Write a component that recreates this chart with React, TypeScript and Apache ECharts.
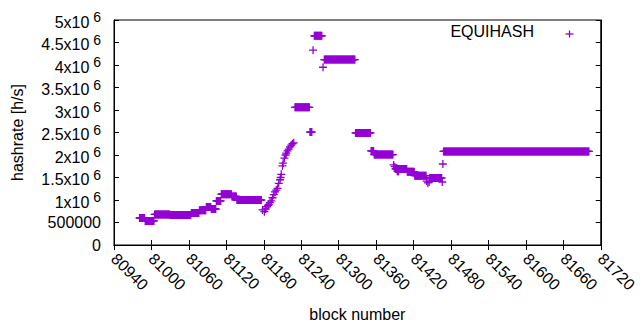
import React, { useEffect, useRef } from "react";
import * as echarts from "echarts";

// Flat runs of constant hashrate: [firstBlock, lastBlock, hashrate]
const runs: [number, number, number][] = [
  [80981, 80989, 600000],
  [80990, 81004, 535000],
  [81005, 81029, 680000],
  [81030, 81063, 665000],
  [81064, 81076, 710000],
  [81077, 81087, 770000],
  [81088, 81095, 845000],
  [81096, 81103, 800000],
  [81104, 81111, 980000],
  [81112, 81128, 1130000],
  [81129, 81136, 1080000],
  [81137, 81176, 1000000],
  [81230, 81253, 3060000],
  [81254, 81257, 2510000],
  [81261, 81273, 4650000],
  [81277, 81326, 4120000],
  [81327, 81351, 2490000],
  [81352, 81356, 2090000],
  [81357, 81387, 2010000],
  [81391, 81409, 1690000],
  [81410, 81421, 1630000],
  [81422, 81440, 1540000],
  [81446, 81465, 1490000],
  [81468, 81701, 2080000],
];

// Individual points (ramps and outliers): [block, hashrate]
const singles: [number, number][] = [
  [81178, 780000],
  [81181, 740000],
  [81183, 800000],
  [81185, 850000],
  [81187, 880000],
  [81188, 900000],
  [81190, 940000],
  [81192, 980000],
  [81194, 1050000],
  [81196, 1120000],
  [81198, 1180000],
  [81200, 1220000],
  [81202, 1260000],
  [81204, 1370000],
  [81206, 1450000],
  [81207, 1500000],
  [81208, 1570000],
  [81210, 1760000],
  [81211, 1820000],
  [81213, 1930000],
  [81215, 2000000],
  [81216, 2040000],
  [81218, 2090000],
  [81220, 2130000],
  [81222, 2180000],
  [81224, 2220000],
  [81226, 2250000],
  [81228, 2270000],
  [81259, 4330000],
  [81275, 3950000],
  [81388, 1780000],
  [81390, 1740000],
  [81394, 1640000],
  [81395, 1640000],
  [81396, 1640000],
  [81441, 1420000],
  [81443, 1380000],
  [81445, 1400000],
  [81466, 1400000],
  [81467, 1800000],
];

const xMin = 80940;
const xMax = 81720;
const xStep = 60;
const yMin = 0;
const yMax = 5000000;
const yStep = 500000;

const seriesName = "EQUIHASH";
const xTitle = "block number";
const yTitle = "hashrate [h/s]";

const COLOR = "#9400d3";
const FONT = "Liberation Sans, Arial, sans-serif";
const FS = 16;

function buildData(): [number, number][] {
  const pts: [number, number][] = [];
  runs.forEach(([a, b, v]) => {
    for (let k = a; k <= b; k++) pts.push([k, v]);
  });
  singles.forEach((p) => pts.push(p));
  pts.sort((p, q) => p[0] - q[0]);
  return pts;
}

const CROSS = "path://M0,4.2H10V5.8H0Z M4.2,0H5.8V10H4.2Z";

export default function App() {
  const ref = useRef<HTMLDivElement>(null);
  useEffect(() => {
    if (!ref.current) return;
    const chart = echarts.init(ref.current, undefined, { renderer: "svg" });
    const yFmt = (v: number) => {
      if (v === 0) return "0";
      if (v === 500000) return "500000";
      return `{b|${v / 1000000}x10}{s| 6}`;
    };
    const tickCommon = { show: true, inside: true, length: 5, lineStyle: { color: "#000", width: 1 } };
    chart.setOption({
      animation: false,
      backgroundColor: "#fff",
      textStyle: { fontFamily: FONT },
      grid: { left: 114, right: 32, top: 20, bottom: 85, show: true, borderColor: "#000", borderWidth: 1, backgroundColor: "transparent" },
      xAxis: [
        {
          type: "value",
          min: xMin,
          max: xMax,
          interval: xStep,
          position: "bottom",
          name: xTitle,
          nameLocation: "middle",
          nameGap: 61,
          nameTextStyle: { fontSize: FS, color: "#000", fontFamily: FONT },
          axisLine: { show: true, lineStyle: { color: "#000" } },
          axisTick: tickCommon,
          splitLine: { show: false },
          axisLabel: {
            rotate: -45,
            margin: 11,
            fontSize: FS,
            color: "#000",
            fontFamily: FONT,
            showMaxLabel: true,
            showMinLabel: true,
            hideOverlap: false,
            formatter: (v: number) => String(v),
          },
        },
        {
          type: "value",
          min: xMin,
          max: xMax,
          interval: xStep,
          position: "top",
          axisLine: { show: true, lineStyle: { color: "#000" } },
          axisTick: tickCommon,
          splitLine: { show: false },
          axisLabel: { show: false },
        },
      ],
      yAxis: [
        {
          type: "value",
          min: yMin,
          max: yMax,
          interval: yStep,
          position: "left",
          name: yTitle,
          nameLocation: "middle",
          nameGap: 89,
          nameTextStyle: { fontSize: FS, color: "#000", fontFamily: FONT },
          axisLine: { show: true, lineStyle: { color: "#000" } },
          axisTick: tickCommon,
          splitLine: { show: false },
          axisLabel: {
            margin: 13,
            fontSize: FS,
            color: "#000",
            fontFamily: FONT,
            showMaxLabel: true,
            showMinLabel: true,
            hideOverlap: false,
            formatter: yFmt,
            rich: {
              b: { fontSize: FS, fontFamily: FONT, color: "#000", lineHeight: 20, verticalAlign: "bottom" },
              s: { fontSize: 14, fontFamily: FONT, color: "#000", lineHeight: 11, verticalAlign: "top" },
            },
          },
        },
        {
          type: "value",
          min: yMin,
          max: yMax,
          interval: yStep,
          position: "right",
          axisLine: { show: true, lineStyle: { color: "#000" } },
          axisTick: tickCommon,
          splitLine: { show: false },
          axisLabel: { show: false },
        },
      ],
      graphic: [
        {
          type: "text",
          right: 106,
          top: 23,
          style: { text: seriesName, fontSize: FS, fontFamily: FONT, fill: "#000" },
        },
        {
          type: "group",
          left: 563,
          top: 28,
          children: [
            { type: "line", shape: { x1: 0, y1: 3.5, x2: 8, y2: 3.5 }, style: { stroke: COLOR, lineWidth: 1.3 } },
            { type: "line", shape: { x1: 4, y1: 0, x2: 4, y2: 7 }, style: { stroke: COLOR, lineWidth: 1.3 } },
          ],
        },
      ],
      series: [
        {
          name: seriesName,
          type: "scatter",
          xAxisIndex: 0,
          yAxisIndex: 0,
          data: buildData(),
          symbol: CROSS,
          symbolSize: 8,
          itemStyle: { color: COLOR, opacity: 1 },
          emphasis: { disabled: true },
        },
      ],
    });
    return () => chart.dispose();
  }, []);
  return <div ref={ref} style={{ width: 640, height: 330, position: "absolute", left: 0, top: 0 }} />;
}
